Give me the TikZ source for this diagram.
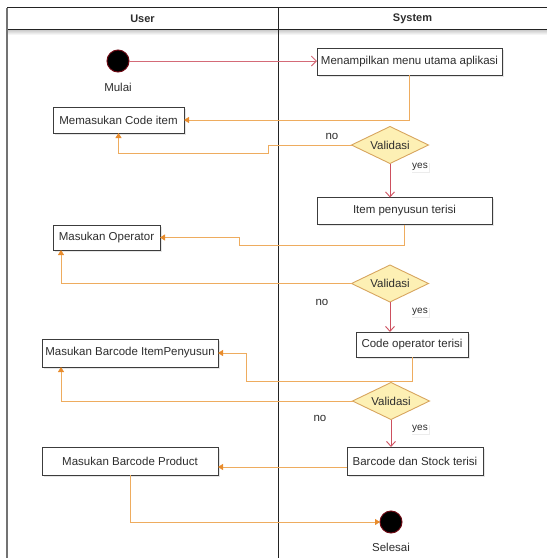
\documentclass[tikz,border=0pt]{standalone}
\usepackage{fontspec}
\setsansfont{Liberation Sans}
\usetikzlibrary{shapes.geometric,arrows.meta,shadows}
\definecolor{laneline}{RGB}{35,35,35}
\definecolor{txtgray}{RGB}{45,45,45}
\definecolor{boxgray}{RGB}{60,60,60}
\definecolor{dfill}{RGB}{253,240,180}
\definecolor{dborder}{RGB}{215,165,95}
\definecolor{flowor}{RGB}{238,172,95}
\definecolor{heador}{RGB}{232,140,45}
\definecolor{yesred}{RGB}{205,80,95}
\definecolor{dotred}{RGB}{110,10,20}

\begin{document}
\begin{tikzpicture}[x=1pt,y=-1pt,
  every node/.style={font=\sffamily\fontsize{11.5}{13}\selectfont, text=txtgray, inner sep=0pt, outer sep=0pt},
  lanehead/.style={font=\sffamily\bfseries\fontsize{11}{13}\selectfont},
  box/.style={draw=boxgray, fill=white, line width=0.9pt, minimum height=27pt,
    drop shadow={opacity=0.2, shadow xshift=1.5pt, shadow yshift=-1.5pt}},
  validasi/.style={diamond, aspect=2.1, draw=dborder, fill=dfill, line width=0.9pt, minimum width=77pt, minimum height=37pt},
  dot/.style={circle, fill=black, draw=dotred, line width=1pt, minimum size=22pt},
  yeslbl/.style={fill=white, inner sep=1.5pt, font=\sffamily\fontsize{10}{12}\selectfont,
    drop shadow={opacity=0.15, shadow xshift=1pt, shadow yshift=-1pt}},
  flow/.style={draw=flowor, line width=0.9pt, -{Triangle[length=5pt,width=6pt,color=heador]}},
  yesflow/.style={draw=yesred, line width=0.9pt, -{Straight Barb[length=5pt,width=9pt]}}]
\useasboundingbox (0,0) rectangle (547,558);

\shade[top color=black!20, bottom color=white] (8,30) rectangle (547,35);
\draw[laneline, line width=1pt] (7,7.5) -- (547,7.5);
\draw[laneline, line width=0.8pt] (7,29.5) -- (547,29.5);
\draw[black!55, line width=2pt] (7,7.5) -- (7,558);
\draw[laneline, line width=1.2pt] (278.5,7.5) -- (278.5,558);

\node[lanehead] (user) at (142.5,18.5) {User};
\node[lanehead] (system) at (412.5,18.5) {System};

\node[dot] (start) at (118,61) {};
\node (mulai) at (118,87) {Mulai};
\node[box, minimum width=185pt] (menu) at (409.5,61.5) {Menampilkan menu utama aplikasi};
\node[box, minimum width=131pt, minimum height=26pt] (code) at (118.5,120) {Memasukan Code item};
\node[validasi] (val1) at (390,145) {Validasi};
\node (no1) at (332,136) {no};
\node[yeslbl] (yes1) at (420,167) {yes};
\node[box, minimum width=175pt] (item) at (404.5,211) {Item penyusun terisi};
\node[box, minimum width=107pt, minimum height=25pt] (oper) at (106.5,237.5) {Masukan Operator};
\node[validasi] (val2) at (390,283.5) {Validasi};
\node (no2) at (322,302) {no};
\node[yeslbl] (yes2) at (420,312) {yes};
\node[box, minimum width=112pt, minimum height=25pt] (codeop) at (412,344.5) {Code operator terisi};
\node[box, minimum width=176pt, minimum height=28pt] (itp) at (130,353) {Masukan Barcode ItemPenyusun};
\node[validasi] (val3) at (391,401) {Validasi};
\node (no3) at (320,418) {no};
\node[yeslbl] (yes3) at (420,429) {yes};
\node[box, minimum width=136pt, minimum height=28pt] (stock) at (415,461) {Barcode dan Stock terisi};
\node[box, minimum width=176pt, minimum height=28pt] (prod) at (130,461) {Masukan Barcode Product};
\node[dot] (finish) at (391,522) {};
\node (selesai) at (391,547) {Selesai};

\coordinate (s1) at (268,153);
\coordinate (s2) at (239,245);
\coordinate (s4) at (246,381);

\draw[draw=yesred!85, line width=0.9pt, -{Straight Barb[length=5pt,width=10pt]}] (start.east) -- (start.east -| menu.west);
\draw[flow] (menu.south) |- (code.east);
\draw[flow] (val1.west) -| (s1) -| (code.south);
\draw[yesflow] (val1.south) -- (val1.south |- item.north);
\draw[flow] (item.south) |- (s2) |- (oper.east);
\draw[flow] (val2.west) -| ([xshift=8pt]oper.south west);
\draw[yesflow] (val2.south) -- (val2.south |- codeop.north);
\draw[flow] (codeop.south) |- (s4) |- (itp.east);
\draw[flow] (val3.west) -| ([xshift=19pt]itp.south west);
\draw[yesflow] (val3.south) -- (val3.south |- stock.north);
\draw[flow] ([yshift=-6pt]stock.west) -- ([yshift=-6pt]prod.east);
\draw[flow] (prod.south) |- (finish.west);
\end{tikzpicture}
\end{document}
